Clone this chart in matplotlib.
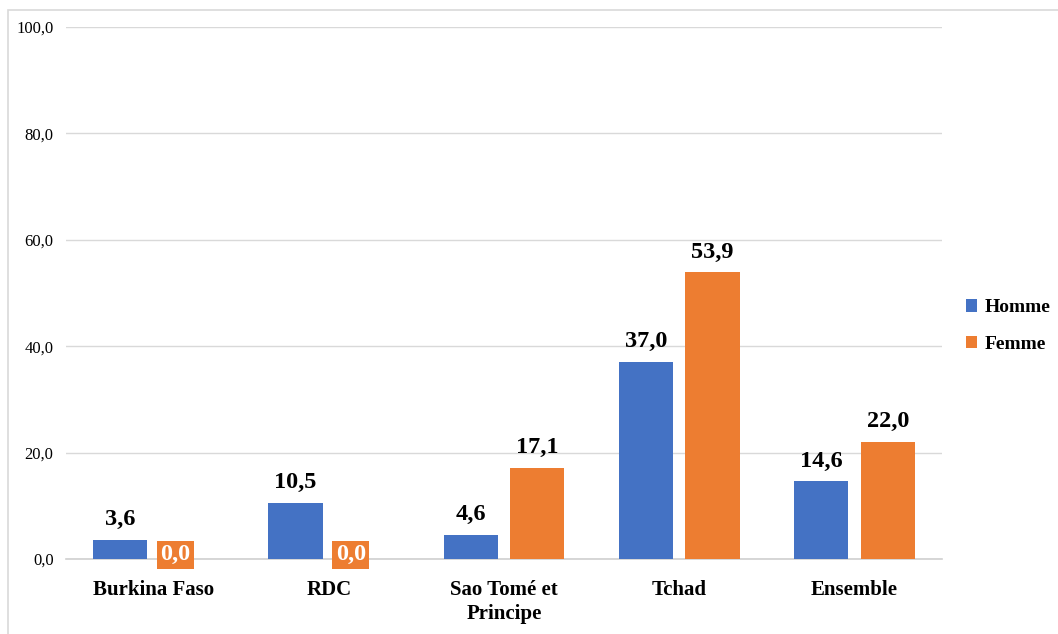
import matplotlib
matplotlib.use("Agg")
import numpy as np
import matplotlib.pyplot as plt
from matplotlib.patches import Rectangle

# data
pays = ["Burkina Faso", "RDC", "Sao Tomé et\nPrincipe", "Tchad", "Ensemble"]
homme = [3.6, 10.5, 4.6, 37.0, 14.6]
femme = [0.0, 0.0, 17.1, 53.9, 22.0]
yticks = [0, 20, 40, 60, 80, 100]

bleu = "#4472c4"
orange = "#ed7d31"

plt.rcParams["font.family"] = ["Liberation Serif", "DejaVu Serif"]

fig = plt.figure(figsize=(10.58, 6.34), dpi=100)
# light frame around the chart area
fig.patches.append(Rectangle((8 / 1058, -0.05), 1.2, 1 - 10 / 634 + 0.05,
                             transform=fig.transFigure, fill=False,
                             edgecolor="#d9d9d9", linewidth=1.2))

ax = fig.add_axes([66 / 1058, 1 - 559 / 634, 876 / 1058, 532 / 634])

x = np.arange(len(pays))
w = 0.31
off = 0.19
b1 = ax.bar(x - off, homme, w, color=bleu, label="Homme", zorder=3)
b2 = ax.bar(x + off, femme, w, color=orange, label="Femme", zorder=3)

for xi, v in zip(x, homme):
    ax.annotate(f"{v:.1f}".replace(".", ","), (xi - off, v), xytext=(0, 7),
                textcoords="offset points", ha="center", va="bottom",
                fontsize=17.5, fontweight="bold", zorder=4)
for xi, v in zip(x, femme):
    txt = f"{v:.1f}".replace(".", ",")
    if v == 0:
        ax.annotate(txt, (xi + 0.125, v), xytext=(0, 3),
                    textcoords="offset points", ha="center", va="center",
                    fontsize=17.5, fontweight="bold", color="white", zorder=5,
                    bbox=dict(boxstyle="square,pad=0.15", fc=orange, ec="none"))
    else:
        ax.annotate(txt, (xi + off, v), xytext=(0, 7),
                    textcoords="offset points", ha="center", va="bottom",
                    fontsize=17.5, fontweight="bold", zorder=4)

ax.set_xlim(-0.5, len(pays) - 0.5)
ax.set_ylim(0, 100)
ax.set_yticks(yticks)
ax.set_yticklabels([f"{t:.1f}".replace(".", ",") for t in yticks], fontsize=12)
ax.set_xticks(x)
ax.set_xticklabels(pays, fontsize=15, fontweight="bold", linespacing=1.25)
ax.tick_params(axis="both", length=0)
ax.tick_params(axis="y", pad=9)
ax.tick_params(axis="x", pad=15)

ax.grid(axis="y", color="#d9d9d9", linewidth=1, zorder=0)
for s in ["top", "right", "left"]:
    ax.spines[s].set_visible(False)
ax.spines["bottom"].set_color("#d0d0d0")
ax.spines["bottom"].set_linewidth(1.2)

leg = fig.legend(handles=[b1, b2], loc="center left",
                 bbox_to_anchor=(948 / 1058, 1 - 326 / 634), frameon=False,
                 prop={"size": 14, "weight": "bold"}, handlelength=0.6,
                 handleheight=0.6, handletextpad=0.4, labelspacing=1.0)

fig.savefig("out.png", dpi=100)
